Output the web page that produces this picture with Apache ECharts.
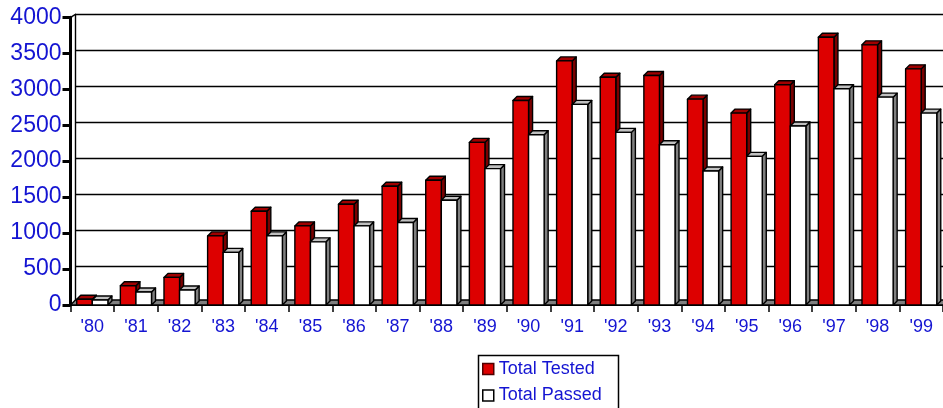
<!DOCTYPE html>
<html>
<head>
<meta charset="utf-8">
<script src="https://cdn.jsdelivr.net/npm/echarts@6/dist/echarts.min.js"></script>
<style>
html,body{margin:0;padding:0;background:#fff;}
#chart{width:943px;height:408px;}
</style>
</head>
<body>
<div id="chart"></div>
<script>
const categories = ["'80","'81","'82","'83","'84","'85","'86","'87","'88","'89","'90","'91","'92","'93","'94","'95","'96","'97","'98","'99"];
const totalTested = [80, 268, 384, 961, 1304, 1100, 1401, 1651, 1734, 2261, 2844, 3394, 3167, 3191, 2862, 2668, 3062, 3722, 3617, 3283];
const totalPassed = [70, 180, 208, 731, 961, 878, 1100, 1147, 1457, 1896, 2368, 2789, 2400, 2229, 1863, 2067, 2488, 3006, 2890, 2668];
const seriesNames = ['Total Tested', 'Total Passed'];

const BLUE = '#1414d2';
const FONT = 'Liberation Sans';
const BAR_FRAC = 0.357;
const DX = 4, DY = -4;          // bar depth
const FDX = 5, FDY = -5;        // floor / wall depth

const chart = echarts.init(document.getElementById('chart'), null, {renderer: 'canvas'});

function barRenderer(isLeft, front, top, side) {
  return function (params, api) {
    const c = api.coord([api.value(0), api.value(1)]);
    const b = api.coord([api.value(0), 0]);
    const w = api.size([1, 0])[0] * BAR_FRAC;
    const x0 = isLeft ? c[0] - w : c[0];
    const x1 = x0 + w;
    const yt = c[1], yb = b[1];
    const st = {stroke: '#000', lineWidth: 1.4, lineJoin: 'round'};
    return {
      type: 'group',
      children: [
        {type: 'polygon', shape: {points: [[x1, yb], [x1 + DX, yb + DY], [x1 + DX, yt + DY], [x1, yt]]},
         style: Object.assign({fill: side}, st)},
        {type: 'polygon', shape: {points: [[x0, yt], [x0 + DX, yt + DY], [x1 + DX, yt + DY], [x1, yt]]},
         style: Object.assign({fill: top}, st)},
        {type: 'rect', shape: {x: x0, y: yt, width: w, height: yb - yt},
         style: Object.assign({fill: front}, st)}
      ]
    };
  };
}

function floorRenderer(params, api) {
  const cs = params.coordSys;
  const yb = cs.y + cs.height;
  const xl = cs.x, xr = cs.x + cs.width;
  return {
    type: 'group',
    children: [
      {type: 'polygon', shape: {points: [[xl, yb], [xr, yb], [xr + FDX, yb + FDY], [xl + FDX, yb + FDY]]},
       style: {fill: '#808080', stroke: '#000', lineWidth: 1.4}},
      {type: 'line', shape: {x1: xl, y1: cs.y, x2: xl + FDX, y2: cs.y - 3},
       style: {stroke: '#000', lineWidth: 1.4}}
    ]
  };
}

const legendCommon = {
  orient: 'vertical', left: 482, padding: 0,
  itemWidth: 11, itemHeight: 11, itemTextGap: 7,
  textStyle: {color: BLUE, fontSize: 18, fontFamily: FONT, lineHeight: 17}
};

const gridW = 874.2;
const option = {
  animation: false,
  backgroundColor: '#fff',
  grid: [
    {left: 70.5, top: 17.3, width: gridW, height: 287.7},
    {left: 75.5, top: 14.3, width: gridW, height: 287.7}
  ],
  graphic: [
    {type: 'rect', left: 476, top: 353, shape: {x: 0, y: 0, width: 140, height: 70},
     style: {fill: 'none', stroke: '#000', lineWidth: 1.5}, z: 10}
  ],
  xAxis: [
    {type: 'category', gridIndex: 0, data: categories, boundaryGap: true,
     axisLine: {show: true, lineStyle: {color: '#000', width: 2}},
     axisTick: {show: true, length: 7, lineStyle: {color: '#000', width: 1.5}},
     axisLabel: {color: BLUE, fontSize: 18, fontFamily: FONT, margin: 13, interval: 0},
     splitLine: {show: false}},
    {type: 'category', gridIndex: 1, data: categories, show: false}
  ],
  yAxis: [
    {type: 'value', gridIndex: 0, min: 0, max: 4000, interval: 500,
     axisLine: {show: true, lineStyle: {color: '#000', width: 3}},
     axisTick: {show: true, length: 8, lineStyle: {color: '#000', width: 3}},
     axisLabel: {color: BLUE, fontSize: 23, fontFamily: FONT, margin: 9,
                 formatter: function (v) { return String(v); }},
     splitLine: {show: false}},
    {type: 'value', gridIndex: 1, min: 0, max: 4000, interval: 500,
     axisLine: {show: true, lineStyle: {color: '#000', width: 1.4}},
     axisTick: {show: false}, axisLabel: {show: false},
     splitLine: {show: true, lineStyle: {color: '#000', width: 1.4}}}
  ],
  legend: [
    Object.assign({}, legendCommon, {top: 360,
      data: [{name: seriesNames[0], icon: 'rect', itemStyle: {color: '#dd0000', borderColor: '#500000', borderWidth: 1.5}}]}),
    Object.assign({}, legendCommon, {top: 386.5,
      data: [{name: seriesNames[1], icon: 'rect', itemStyle: {color: '#ffffff', borderColor: '#000', borderWidth: 1.5}}]})
  ],
  series: [
    {type: 'custom', name: 'floor', xAxisIndex: 0, yAxisIndex: 0, data: [[0, 0]],
     renderItem: floorRenderer, silent: true, z: 1},
    {type: 'custom', name: seriesNames[0], xAxisIndex: 0, yAxisIndex: 0,
     data: totalTested.map((v, i) => [i, v]),
     itemStyle: {color: '#dd0000'},
     renderItem: barRenderer(true, '#dd0000', '#a00000', '#7a0000'), z: 2},
    {type: 'custom', name: seriesNames[1], xAxisIndex: 0, yAxisIndex: 0,
     data: totalPassed.map((v, i) => [i, v]),
     itemStyle: {color: '#ffffff'},
     renderItem: barRenderer(false, '#ffffff', '#c0c0c0', '#808080'), z: 3}
  ]
};
chart.setOption(option);
</script>
</body>
</html>
